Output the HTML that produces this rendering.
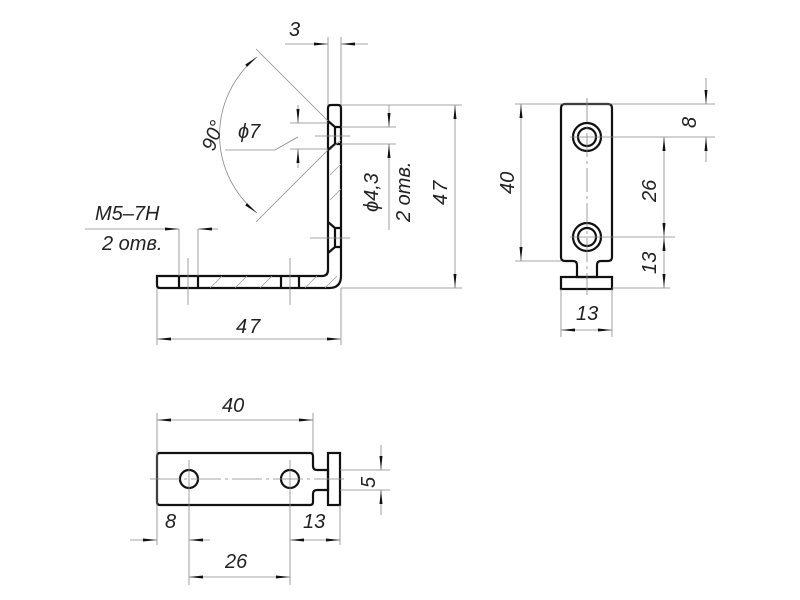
<!DOCTYPE html>
<html><head><meta charset="utf-8"><style>
html,body{margin:0;padding:0;background:#fff}
svg{display:block}
text{font-family:"Liberation Sans",sans-serif;font-style:italic;fill:#222;font-size:20px}
.t{stroke:#888;stroke-width:0.8;fill:none}
.k{stroke:#111;stroke-width:2.2;fill:none}
.h{stroke:#999;stroke-width:0.7}
</style></head><body>
<svg width="800" height="600" viewBox="0 0 800 600">
<defs>
<marker id="a" markerWidth="14" markerHeight="6" refX="14" refY="3" orient="auto" markerUnits="userSpaceOnUse"><path d="M0,1.5 L14,3 L0,4.5z" fill="#111"/></marker>
<marker id="b" markerWidth="14" markerHeight="6" refX="0" refY="3" orient="auto" markerUnits="userSpaceOnUse"><path d="M14,1.5 L0,3 L14,4.5z" fill="#111"/></marker>
</defs>

<!-- SIDE VIEW (L) -->
<g class="k">
<path d="M157,276 H322 Q328,276 328,270 V108 Q328,105 331,105 H338 Q341,105 341,108 V276 Q341,288 329,288 H160 Q157,288 157,285 Z"/>
<line x1="179" y1="276" x2="179" y2="288"/><line x1="198" y1="276" x2="198" y2="288"/>
<line x1="281" y1="276" x2="281" y2="288"/><line x1="299" y1="276" x2="299" y2="288"/>
<path d="M328,121 L335,127 H341 M335,127 V144 M328,150 L335,144 H341"/>
<path d="M328,222 L335,228 H341 M335,228 V247 M328,253 L335,247 H341"/>
</g>
<g class="h">
<line x1="210" y1="288" x2="222" y2="276"/><line x1="235" y1="288" x2="247" y2="276"/><line x1="260" y1="288" x2="272" y2="276"/>
<line x1="305" y1="288" x2="317" y2="276"/><line x1="325" y1="288" x2="337" y2="276"/>
<line x1="330" y1="175" x2="341" y2="164"/><line x1="330" y1="200" x2="341" y2="189"/><line x1="330" y1="150" x2="341" y2="140"/>
</g>
<g class="t">
<line x1="188" y1="258" x2="188" y2="305"/><line x1="290" y1="258" x2="290" y2="305"/>
<line x1="315" y1="136" x2="350" y2="136"/><line x1="310" y1="238" x2="350" y2="238"/>
<line x1="328" y1="37" x2="328" y2="105"/><line x1="341" y1="37" x2="341" y2="105"/>
<line x1="285" y1="44" x2="328" y2="44" marker-end="url(#a)"/><line x1="368" y1="44" x2="341" y2="44" marker-end="url(#a)"/>
<line x1="341" y1="105" x2="462" y2="105"/><line x1="341" y1="288" x2="462" y2="288"/>
<line x1="455" y1="105" x2="455" y2="288" marker-start="url(#b)" marker-end="url(#a)"/>
<line x1="157" y1="288" x2="157" y2="345"/><line x1="341" y1="288" x2="341" y2="345"/>
<line x1="157" y1="339" x2="341" y2="339" marker-start="url(#b)" marker-end="url(#a)"/>
<line x1="328" y1="121" x2="256" y2="49"/><line x1="328" y1="150" x2="256" y2="222"/>
<path d="M257,57 A100,100 0 0 0 257,213" marker-start="url(#b)" marker-end="url(#a)"/>
<line x1="290" y1="123" x2="328" y2="123"/><line x1="290" y1="149" x2="328" y2="149"/>
<line x1="298" y1="105" x2="298" y2="123" marker-end="url(#a)"/><line x1="298" y1="168" x2="298" y2="149" marker-end="url(#a)"/>
<polyline points="298,137 275,150 225,150"/>
<line x1="341" y1="127" x2="396" y2="127"/><line x1="341" y1="144" x2="396" y2="144"/>
<line x1="389" y1="105" x2="389" y2="127" marker-end="url(#a)"/><line x1="389" y1="230" x2="389" y2="144" marker-end="url(#a)"/>
<line x1="85" y1="229" x2="179" y2="229" marker-end="url(#a)"/><line x1="218" y1="229" x2="198" y2="229" marker-end="url(#a)"/>
<line x1="179" y1="229" x2="179" y2="276"/><line x1="198" y1="229" x2="198" y2="276"/>
</g>
<text x="289" y="36">3</text>
<text x="236" y="333" letter-spacing="2">47</text>
<text transform="translate(447,205) rotate(-90)" letter-spacing="2">47</text>
<text transform="translate(214,152) rotate(-70)">90°</text>
<text x="238" y="138">ϕ7</text>
<text transform="translate(378,212) rotate(-90)">ϕ4,3</text>
<text transform="translate(410,222) rotate(-90)">2 отв.</text>
<text x="95" y="220">M5–7H</text>
<text x="102" y="250">2 отв.</text>

<!-- FRONT VIEW (R) -->
<g class="k">
<path d="M565,104 H608 Q612,104 612,108 V257 Q612,261 608,261 H601 Q597,261 597,265 V277 H577 V265 Q577,261 573,261 H565 Q561,261 561,257 V108 Q561,104 565,104 Z"/>
<rect x="561" y="277" width="51" height="12"/>
<circle cx="587" cy="137" r="14"/><circle cx="587" cy="137" r="9"/>
<circle cx="587" cy="237" r="14"/><circle cx="587" cy="237" r="9"/>
</g>
<g class="t">
<line x1="587" y1="98" x2="587" y2="295" stroke-dasharray="24,4,3,4"/>
<line x1="570" y1="137" x2="715" y2="137"/><line x1="570" y1="237" x2="675" y2="237"/>
<line x1="515" y1="104" x2="715" y2="104"/><line x1="515" y1="261" x2="561" y2="261"/>
<line x1="612" y1="288" x2="670" y2="288"/>
<line x1="521" y1="104" x2="521" y2="261" marker-start="url(#b)" marker-end="url(#a)"/>
<line x1="706" y1="78" x2="706" y2="104" marker-end="url(#a)"/><line x1="706" y1="162" x2="706" y2="137" marker-end="url(#a)"/>
<line x1="664" y1="137" x2="664" y2="237" marker-start="url(#b)" marker-end="url(#a)"/>
<line x1="664" y1="237" x2="664" y2="288" marker-start="url(#b)" marker-end="url(#a)"/>
<line x1="561" y1="289" x2="561" y2="337"/><line x1="612" y1="289" x2="612" y2="337"/>
<line x1="561" y1="330" x2="612" y2="330" marker-start="url(#b)" marker-end="url(#a)"/>
</g>
<text transform="translate(514,194) rotate(-90)">40</text>
<text transform="translate(696,128) rotate(-90)">8</text>
<text transform="translate(656,202) rotate(-90)">26</text>
<text transform="translate(656,274) rotate(-90)">13</text>
<text x="576" y="320">13</text>

<!-- TOP VIEW (bottom) -->
<g class="k">
<path d="M160,453 H310 Q313,453 313,456 V466 Q313,470 317,470 H328 V490 H317 Q313,490 313,494 V502 Q313,505 310,505 H160 Q157,505 157,502 V456 Q157,453 160,453 Z"/>
<rect x="328" y="453" width="12" height="52"/>
<circle cx="189" cy="479" r="9"/><circle cx="290" cy="479" r="9"/>
</g>
<g class="t">
<line x1="150" y1="479" x2="345" y2="479" stroke-dasharray="30,4,3,4"/>
<line x1="189" y1="460" x2="189" y2="585"/><line x1="290" y1="460" x2="290" y2="585"/>
<line x1="157" y1="413" x2="157" y2="545"/><line x1="313" y1="413" x2="313" y2="453"/>
<line x1="340" y1="505" x2="340" y2="545"/>
<line x1="157" y1="420" x2="313" y2="420" marker-start="url(#b)" marker-end="url(#a)"/>
<line x1="340" y1="470" x2="390" y2="470"/><line x1="340" y1="490" x2="390" y2="490"/>
<line x1="381" y1="445" x2="381" y2="470" marker-end="url(#a)"/><line x1="381" y1="515" x2="381" y2="490" marker-end="url(#a)"/>
<line x1="130" y1="540" x2="157" y2="540" marker-end="url(#a)"/><line x1="210" y1="540" x2="189" y2="540" marker-end="url(#a)"/>
<line x1="290" y1="540" x2="340" y2="540" marker-start="url(#b)" marker-end="url(#a)"/>
<line x1="189" y1="577" x2="290" y2="577" marker-start="url(#b)" marker-end="url(#a)"/>
</g>
<text x="222" y="412">40</text>
<text transform="translate(375,488) rotate(-90)">5</text>
<text x="165" y="528">8</text>
<text x="303" y="528">13</text>
<text x="225" y="568">26</text>
</svg>
</body></html>
